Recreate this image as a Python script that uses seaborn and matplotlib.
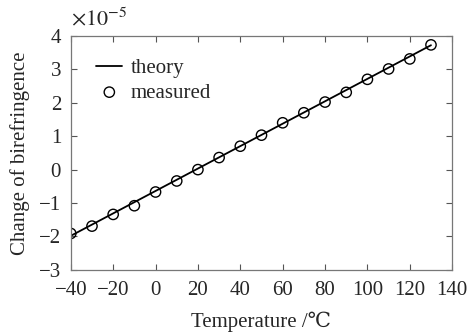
import matplotlib
matplotlib.use("Agg")
import matplotlib.pyplot as plt
import seaborn as sns
import pandas as pd

temps = [-40, -30, -20, -10, 0, 10, 20, 30, 40, 50, 60, 70, 80, 90, 100, 110, 120, 130]
measured = [-1.91, -1.69, -1.34, -1.08, -0.67, -0.34, 0.0, 0.36, 0.70, 1.03, 1.40, 1.70, 2.02, 2.31, 2.70, 3.01, 3.31, 3.73]
theory_x = [-40, 130]
theory_y = [-1.98, 3.72]
x_ticks = [-40, -20, 0, 20, 40, 60, 80, 100, 120, 140]
y_ticks = [-3, -2, -1, 0, 1, 2, 3, 4]

sns.set_style("ticks")
plt.rcParams['font.family'] = ['Liberation Serif', 'DejaVu Serif']
plt.rcParams['mathtext.fontset'] = 'stix'

df_m = pd.DataFrame({"T": temps, "v": measured})
df_t = pd.DataFrame({"T": theory_x, "v": theory_y})

fig = plt.figure(figsize=(4.72, 3.32), dpi=100)
ax = fig.add_axes([0.150, 0.187, 0.808, 0.705])

sns.lineplot(data=df_t, x="T", y="v", ax=ax, color="black", linewidth=1.3, label="theory")
sns.scatterplot(data=df_m, x="T", y="v", ax=ax, marker="o", s=55, facecolor="none",
                edgecolor="black", linewidth=1.0, label="measured")

ax.set_xlim(-40, 140)
ax.set_ylim(-3, 4)
ax.set_xticks(x_ticks)
ax.set_yticks(y_ticks)
ax.set_xticklabels([str(t).replace("-", "\u2212") for t in x_ticks], fontsize=15)
ax.set_yticklabels([str(t).replace("-", "\u2212") for t in y_ticks], fontsize=15)
ax.tick_params(direction="in", length=4, width=0.8, top=True, right=True, color="#555555")
ax.tick_params(axis="x", pad=8)
ax.tick_params(axis="y", pad=7)
for s in ax.spines.values():
    s.set_color("#777777")
    s.set_linewidth(0.9)
ax.set_xlabel("Temperature /\u2103", fontsize=15, labelpad=8)
ax.set_ylabel("Change of birefringence", fontsize=15, labelpad=6)
ax.text(0.0, 1.025, r"$\times10^{-5}$", transform=ax.transAxes, fontsize=16, ha="left", va="bottom")

leg = ax.legend(loc="upper left", bbox_to_anchor=(0.045, 0.94), frameon=False, fontsize=15,
                handlelength=1.25, handletextpad=0.4, labelspacing=0.25, borderaxespad=0.0)

fig.savefig("out.png", dpi=100)
